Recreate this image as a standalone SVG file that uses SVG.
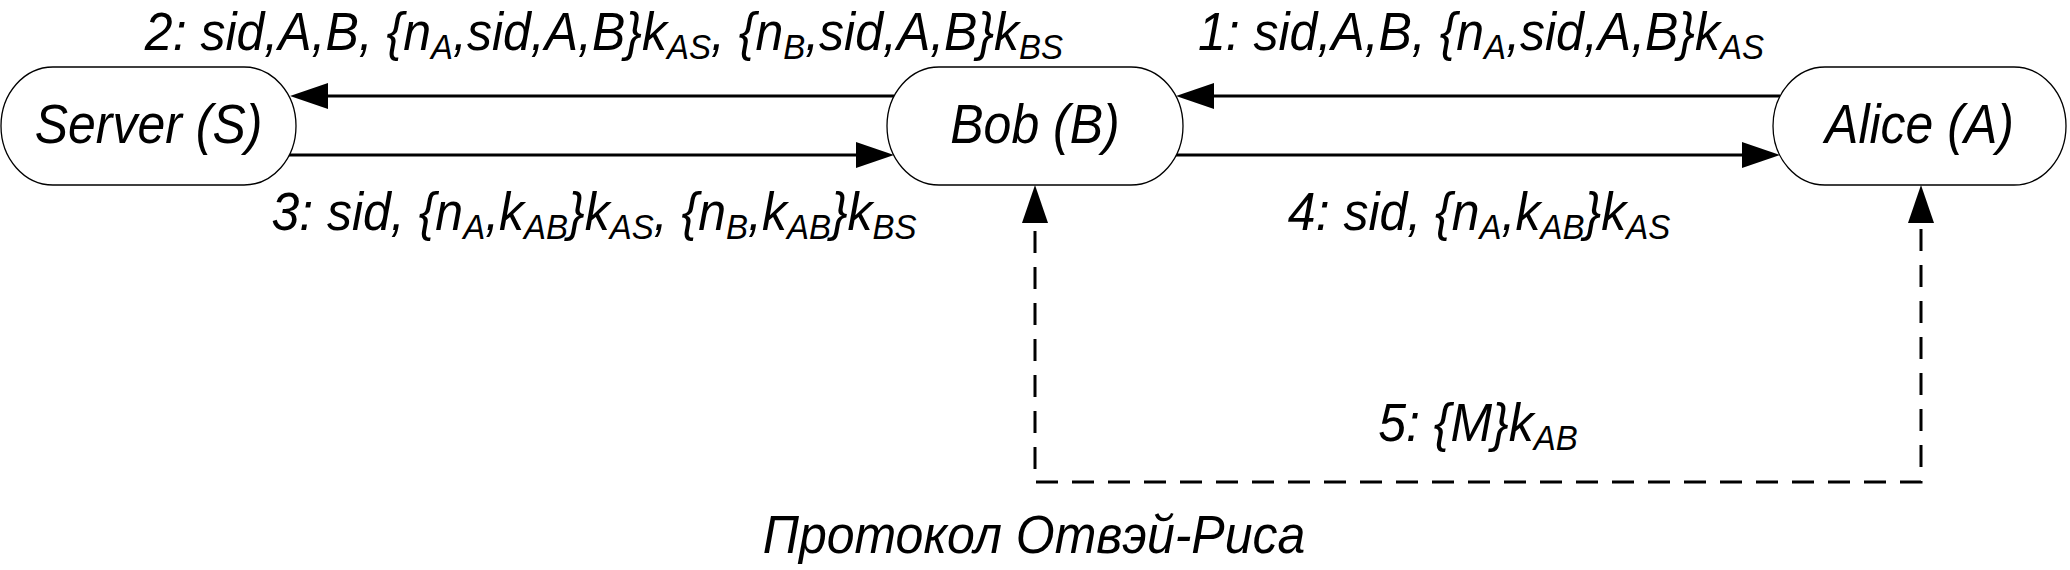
<svg xmlns="http://www.w3.org/2000/svg" width="2070" height="570" viewBox="0 0 2070 570">
  <style>
    .node { fill: #ffffff; stroke: #000000; stroke-width: 1.3; }
    .ntext { font-family: "Liberation Sans", Arial, sans-serif; font-style: italic; font-size: 50px; fill: #000; text-anchor: middle; }
    .lbl { font-family: "Liberation Sans", Arial, sans-serif; font-style: italic; font-size: 50px; fill: #000; text-anchor: middle; }
    .sub { font-size: 33px; }
    .cap { font-family: "Liberation Sans", Arial, sans-serif; font-style: italic; font-size: 50px; fill: #000; text-anchor: middle; }
    .arrow { fill: none; stroke: #000; stroke-width: 3; marker-end: url(#ah); }
    .dash { fill: none; stroke: #000; stroke-width: 3; stroke-dasharray: 22 14; marker-start: url(#ah); marker-end: url(#ah); }
  </style>
  <defs>
    <marker id="ah" viewBox="0 0 38 26" refX="28" refY="13" markerWidth="38" markerHeight="26" markerUnits="userSpaceOnUse" orient="auto-start-reverse">
      <path d="M0,0 L38,13 L0,26 z" fill="#000"/>
    </marker>
  </defs>
  <rect width="2070" height="570" fill="#ffffff"/>

  <g id="connectors">
    <line class="arrow" x1="894" y1="96" x2="300" y2="96"/>
    <line class="arrow" x1="289" y1="155" x2="884" y2="155"/>
    <line class="arrow" x1="1780" y1="96" x2="1186" y2="96"/>
    <line class="arrow" x1="1176" y1="155" x2="1770" y2="155"/>
    <path class="dash" d="M1035,195 V482 H1921 V195"/>
  </g>

  <g id="node-server">
    <rect class="node" x="1" y="67" width="295" height="118" rx="52" ry="59"/>
    <text class="ntext" transform="translate(148.5 143) scale(1 1.1)">Server (S)</text>
  </g>
  <g id="node-bob">
    <rect class="node" x="887" y="67" width="296" height="118" rx="52" ry="59"/>
    <text class="ntext" transform="translate(1035 143) scale(1 1.1)">Bob (B)</text>
  </g>
  <g id="node-alice">
    <rect class="node" x="1773" y="67" width="293" height="118" rx="52" ry="59"/>
    <text class="ntext" transform="translate(1919.5 143) scale(1 1.1)">Alice (A)</text>
  </g>

  <g id="labels">
    <text class="lbl" transform="translate(604 50) scale(1 1.08)">2: sid,A,B, {n<tspan class="sub" dy="8">A</tspan><tspan dy="-8">,sid,A,B}k</tspan><tspan class="sub" dy="8">AS</tspan><tspan dy="-8">, {n</tspan><tspan class="sub" dy="8">B</tspan><tspan dy="-8">,sid,A,B}k</tspan><tspan class="sub" dy="8">BS</tspan></text>
    <text class="lbl" transform="translate(1481 50) scale(1 1.08)">1: sid,A,B, {n<tspan class="sub" dy="8">A</tspan><tspan dy="-8">,sid,A,B}k</tspan><tspan class="sub" dy="8">AS</tspan></text>
    <text class="lbl" transform="translate(594 230) scale(1 1.08)">3: sid, {n<tspan class="sub" dy="8">A</tspan><tspan dy="-8">,k</tspan><tspan class="sub" dy="8">AB</tspan><tspan dy="-8">}k</tspan><tspan class="sub" dy="8">AS</tspan><tspan dy="-8">, {n</tspan><tspan class="sub" dy="8">B</tspan><tspan dy="-8">,k</tspan><tspan class="sub" dy="8">AB</tspan><tspan dy="-8">}k</tspan><tspan class="sub" dy="8">BS</tspan></text>
    <text class="lbl" transform="translate(1479 230) scale(1 1.08)">4: sid, {n<tspan class="sub" dy="8">A</tspan><tspan dy="-8">,k</tspan><tspan class="sub" dy="8">AB</tspan><tspan dy="-8">}k</tspan><tspan class="sub" dy="8">AS</tspan></text>
    <text class="lbl" transform="translate(1478 441) scale(1 1.08)">5: {M}k<tspan class="sub" dy="8">AB</tspan></text>
    <text class="cap" transform="translate(1034 553) scale(1 1.08)">Протокол Отвэй-Риса</text>
  </g>
</svg>
